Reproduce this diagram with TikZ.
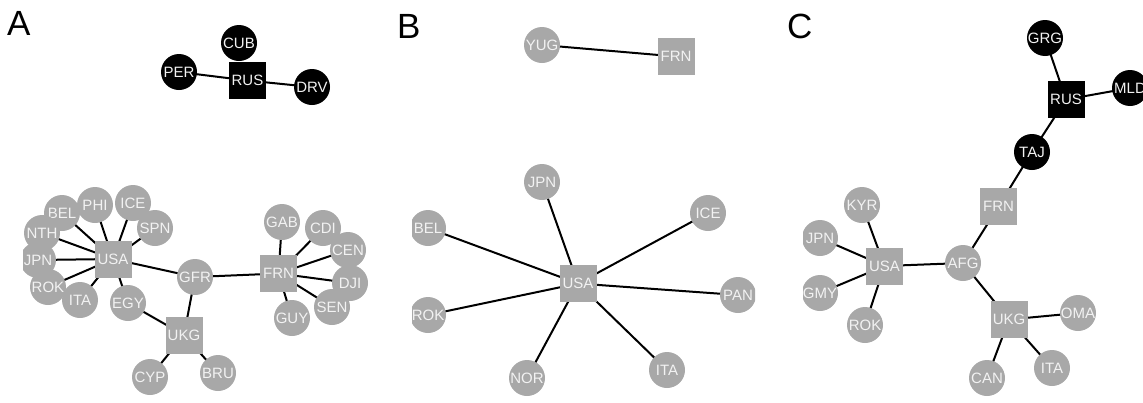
\documentclass[tikz,border=0pt]{standalone}
\usepackage{fontspec}
\setmainfont{Liberation Sans}
\usetikzlibrary{backgrounds}
\definecolor{ngray}{HTML}{A8A8A8}
\definecolor{ntext}{HTML}{F2F2F2}
\tikzset{
  x=1pt,y=-1pt,
  cnode/.style={circle,fill=ngray,text=ntext,minimum size=36pt,inner sep=0pt,font=\fontsize{15}{16}\selectfont},
  snode/.style={rectangle,fill=ngray,text=ntext,minimum size=37pt,inner sep=0pt,font=\fontsize{15}{16}\selectfont},
  bc/.style={cnode,fill=black},
  bs/.style={snode,fill=black},
  edge/.style={line width=2pt,black},
  panel/.style={font=\fontsize{35}{37}\selectfont,anchor=base west,inner sep=0pt}
}
\begin{document}
\begin{tikzpicture}
\useasboundingbox (0,0) rectangle (1143,402);
\node[panel] (LA) at (7,35) {A};
\node[panel] (LB) at (397,38) {B};
\node[panel] (LC) at (787,38) {C};
% Panel A
\begin{scope}
\clip (23,0) rectangle (368,402);
\node[bc] (aCUB) at (239,43) {CUB};
\node[bc] (aPER) at (179,72) {PER};
\node[bs] (aRUS) at (247.5,80.5) {RUS};
\node[bc] (aDRV) at (312,87) {DRV};
\node[snode] (aUSA) at (113,259) {USA};
\node[cnode] (aBEL) at (62,213) {BEL};
\node[cnode] (aPHI) at (95,205) {PHI};
\node[cnode] (aICE) at (133,203) {ICE};
\node[cnode] (aSPN) at (155,228) {SPN};
\node[cnode] (aNTH) at (42,233) {NTH};
\node[cnode] (aJPN) at (38,260) {JPN};
\node[cnode] (aITA) at (80,300) {ITA};
\node[cnode] (aROK) at (48,287) {ROK};
\node[cnode] (aEGY) at (128,303) {EGY};
\node[cnode] (aGFR) at (195,277) {GFR};
\node[snode] (aUKG) at (184,335) {UKG};
\node[cnode] (aCYP) at (150,377) {CYP};
\node[cnode] (aBRU) at (218,373) {BRU};
\node[snode] (aFRN) at (278.5,273.5) {FRN};
\node[cnode] (aGAB) at (282,222) {GAB};
\node[cnode] (aCDI) at (323,228) {CDI};
\node[cnode] (aCEN) at (348,250) {CEN};
\node[cnode] (aDJI) at (350,283) {DJI};
\node[cnode] (aSEN) at (332,307) {SEN};
\node[cnode] (aGUY) at (292,318) {GUY};
\begin{pgfonlayer}{background}
\draw[edge] (aPER.center) -- (aRUS.center);
\draw[edge] (aRUS.center) -- (aDRV.center);
\foreach \n in {PHI,BEL,ICE,SPN,NTH,JPN,ROK,ITA,EGY,GFR}
  \draw[edge] (aUSA.center) -- (a\n.center);
\draw[edge] (aGFR.center) -- (aUKG.center);
\draw[edge] (aGFR.center) -- (aFRN.center);
\foreach \n in {EGY,CYP,BRU}
  \draw[edge] (aUKG.center) -- (a\n.center);
\foreach \n in {GAB,CDI,CEN,DJI,SEN,GUY}
  \draw[edge] (aFRN.center) -- (a\n.center);
\end{pgfonlayer}
\end{scope}
% Panel B
\begin{scope}
\clip (412,0) rectangle (755,402);
\node[cnode] (bYUG) at (542,45) {YUG};
\node[snode] (bFRN) at (676,56.5) {FRN};
\node[snode] (bUSA) at (578,283.5) {USA};
\node[cnode] (bJPN) at (542,182) {JPN};
\node[cnode] (bBEL) at (428,228) {BEL};
\node[cnode] (bICE) at (708,213) {ICE};
\node[cnode] (bPAN) at (738,295) {PAN};
\node[cnode] (bROK) at (428,315) {ROK};
\node[cnode] (bNOR) at (527,378) {NOR};
\node[cnode] (bITA) at (667,370) {ITA};
\begin{pgfonlayer}{background}
\draw[edge] (bYUG.center) -- (bFRN.center);
\foreach \n in {JPN,BEL,ICE,PAN,ROK,NOR,ITA}
  \draw[edge] (bUSA.center) -- (b\n.center);
\end{pgfonlayer}
\end{scope}
% Panel C
\begin{scope}
\clip (803,0) rectangle (1143,402);
\node[bc] (cGRG) at (1045,38) {GRG};
\node[bs] (cRUS) at (1066,99.5) {RUS};
\node[bc] (cMLD) at (1130,88) {MLD};
\node[bc] (cTAJ) at (1032,152) {TAJ};
\node[snode] (cFRN) at (998.5,206.5) {FRN};
\node[cnode] (cAFG) at (963,263) {AFG};
\node[snode] (cUSA) at (884.5,266) {USA};
\node[cnode] (cKYR) at (862,205) {KYR};
\node[cnode] (cJPN) at (820,238) {JPN};
\node[cnode] (cGMY) at (820,293) {GMY};
\node[cnode] (cROK) at (865,325) {ROK};
\node[snode] (cUKG) at (1009,319.5) {UKG};
\node[cnode] (cOMA) at (1078,313) {OMA};
\node[cnode] (cITA) at (1052,368) {ITA};
\node[cnode] (cCAN) at (987,378) {CAN};
\begin{pgfonlayer}{background}
\draw[edge] (cGRG.center) -- (cRUS.center);
\draw[edge] (cRUS.center) -- (cMLD.center);
\draw[edge] (cRUS.center) -- (cTAJ.center);
\draw[edge] (cTAJ.center) -- (cFRN.center);
\draw[edge] (cFRN.center) -- (cAFG.center);
\draw[edge] (cAFG.center) -- (cUSA.center);
\draw[edge] (cAFG.center) -- (cUKG.center);
\foreach \n in {KYR,JPN,GMY,ROK}
  \draw[edge] (cUSA.center) -- (c\n.center);
\foreach \n in {OMA,ITA,CAN}
  \draw[edge] (cUKG.center) -- (c\n.center);
\end{pgfonlayer}
\end{scope}
\end{tikzpicture}
\end{document}
